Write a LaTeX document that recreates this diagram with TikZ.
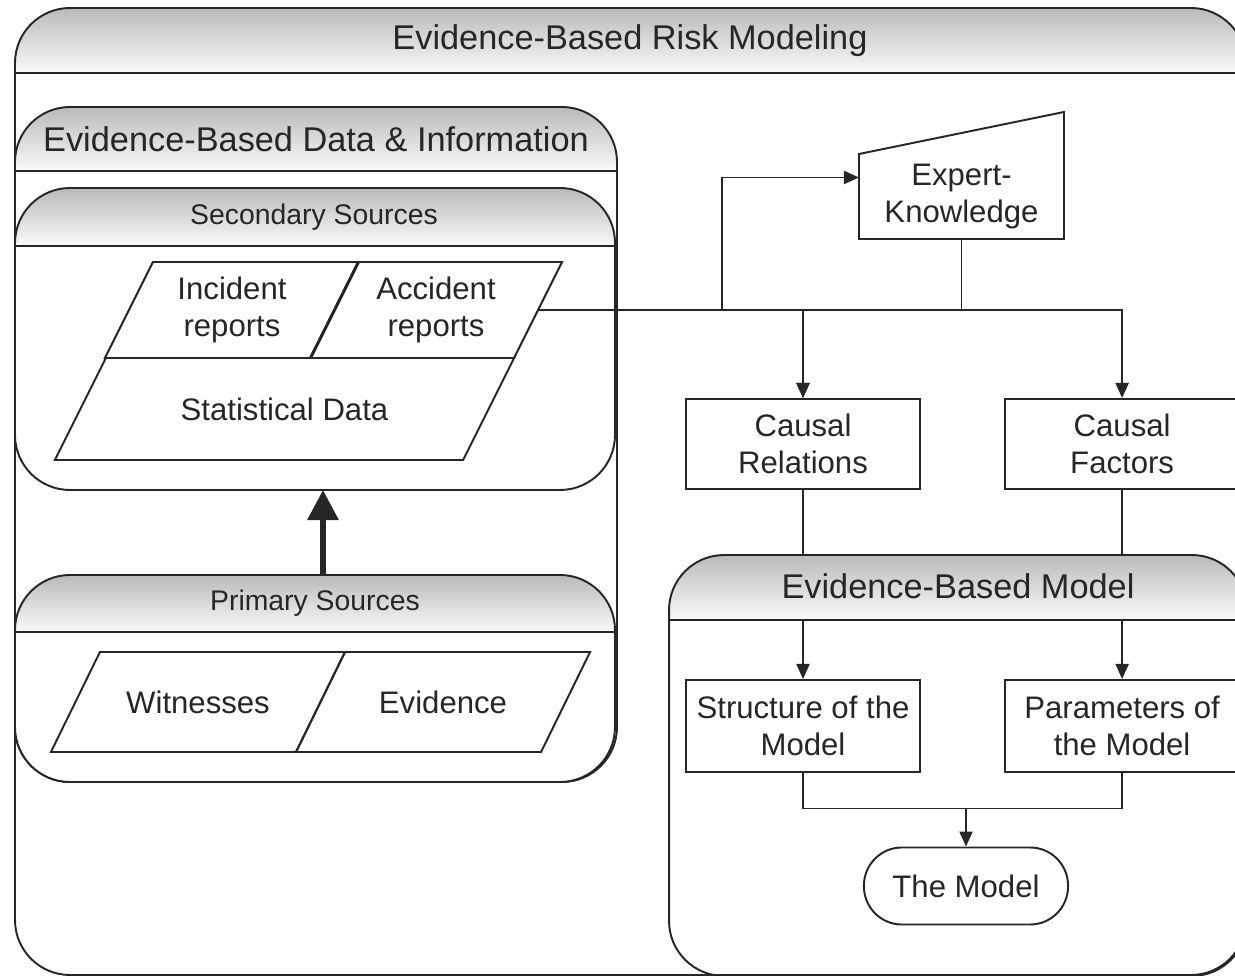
\documentclass[tikz,border=0pt]{standalone}
\usepackage{fontspec}
\setmainfont{Liberation Sans}
\usetikzlibrary{
  positioning,
  arrows.meta,
  fit
}

\begin{document}
\begin{tikzpicture}[
    x=0.01cm,y=-0.01cm,
    line width=0.55pt,color=black!85,
    container/.style={fill=white,inner sep=0pt,outer sep=0pt,rounded corners=0.55cm},
    headerText/.style={font=\fontsize{9.76}{11.5}\selectfont},
    subHeaderText/.style={font=\fontsize{8.07}{9.5}\selectfont},
    stepBox/.style={draw,fill=white,align=center,minimum width=2.34cm,minimum height=0.9cm,inner sep=0pt,font=\fontsize{8.85}{10.5}\selectfont},
    sourceBox/.style={align=center,inner sep=0pt,outer sep=0pt,font=\fontsize{8.85}{10.5}\selectfont},
    flow/.style={-{Triangle[length=0.15cm,width=0.13cm]}},
    bigFlow/.style={line width=0.06cm,-{Triangle[length=0.3cm,width=0.3cm]}}
  ]
    \useasboundingbox (0,0) rectangle (1235,976);
    \clip (0,0) rectangle (1235,976);

    % containers with shaded headers
    \foreach \boxName/\xa/\ya/\xb/\yb/\yh in {outer/15/8/1246/975/73, datainfo/15/107/617/782/171, secondary/15/188/615/490/246, primary/15/575/615/782/632}{
      \node[container,fit={(\xa,\ya) (\xb,\yb)}] (\boxName) {};
      \begin{scope}
        \clip[rounded corners=0.55cm] (\xa,\ya) rectangle (\xb,\yb);
        \shade[top color=black!27,bottom color=black!2] (\xa,\ya) rectangle (\xb,\yh);
      \end{scope}
      \draw[rounded corners=0.55cm] (\boxName.north west) rectangle (\boxName.south east);
      \draw (\xa,\yh) -- (\xb,\yh);
    }

    \node[headerText] (outer title) at (630,41) {Evidence-Based Risk Modeling};
    \node[headerText] (datainfo title) at (316,139) {Evidence-Based Data \& Information};
    \node[subHeaderText] (secondary title) at (314,217) {Secondary Sources};
    \node[subHeaderText] (primary title) at (315,603) {Primary Sources};

    % data sources (parallelograms)
    \node[sourceBox,minimum width=2.06cm,minimum height=0.96cm] (incident) at (232,310) {Incident\\reports};
    \node[sourceBox,minimum width=2.04cm,minimum height=0.96cm] (accident) at (436,310) {Accident\\reports};
    \node[sourceBox,minimum width=4.08cm,minimum height=1.02cm] (statistical) at (284.5,409) {Statistical Data};
    \node[sourceBox,minimum width=2.45cm,minimum height=1cm] (witnesses) at (198,702) {Witnesses};
    \node[sourceBox,minimum width=2.45cm,minimum height=1cm] (evidence) at (443,702) {Evidence};
    \foreach \src/\slant in {incident/0.24cm, accident/0.24cm, statistical/0.255cm, witnesses/0.245cm, evidence/0.245cm}
      \draw ([xshift=\slant]\src.north west) -- ([xshift=\slant]\src.north east)
        -- ([xshift=-\slant]\src.south east) -- ([xshift=-\slant]\src.south west) -- cycle;

    % expert knowledge (manual input)
    \node[align=center,inner sep=0pt,minimum width=2.03cm,minimum height=0.83cm,font=\fontsize{8.85}{10.5}\selectfont] (expert) at (961.5,196.5) {Expert-\\Knowledge};
    \draw (expert.north west) -- (expert.south west) -- (expert.south east) -- ([yshift=0.42cm]expert.north east) -- cycle;

    % model steps
    \node[stepBox] (relations) at (803,444) {Causal\\Relations};
    \node[stepBox,right=0.83cm of relations] (factors) {Causal\\Factors};
    \node[stepBox,minimum height=0.92cm] (structure) at (803,726) {Structure of the\\Model};
    \node[stepBox,minimum height=0.92cm,right=0.83cm of structure] (parameters) {Parameters of\\the Model};
    \node[stepBox,rounded corners=0.38cm,minimum width=2.04cm,minimum height=0.77cm] (themodel) at (966,886) {The Model};

    % connectors
    \coordinate (split) at ([xshift=1.84cm]accident.east);
    \draw[flow] (accident.east) -- (split) |- ([yshift=0.19cm]expert.west);
    \draw[flow] (accident.east) -| (relations.north);
    \draw[flow] (expert.south) -- (expert.south |- split) -| (relations.north);
    \draw[flow] (expert.south) -- (expert.south |- split) -| (factors.north);
    \draw[flow] (relations.south) -- (structure.north);
    \draw[flow] (factors.south) -- (parameters.north);
    \coordinate (merge) at ([yshift=0.38cm]themodel.north);
    \draw (structure.south) |- (merge) -| (parameters.south);
    \draw[flow] (merge) -- (themodel.north);
    \draw[bigFlow] ([xshift=0.08cm]primary.north) -- ([xshift=0.08cm]secondary.south);

    % evidence-based model container, header over the connectors
    \node[inner sep=0pt,fit={(670,556) (1246,975)}] (ebmodel) {};
    \begin{scope}
      \clip[rounded corners=0.55cm] (ebmodel.north west) rectangle (ebmodel.south east);
      \shade[top color=black!27,bottom color=black!2] (ebmodel.north west) rectangle (1246,620);
    \end{scope}
    \draw[rounded corners=0.55cm] (ebmodel.north west) rectangle (ebmodel.south east);
    \draw (670,620) -- (1246,620);
    \node[headerText] (ebmodel title) at (958,586) {Evidence-Based Model};
  \end{tikzpicture}
\end{document}
